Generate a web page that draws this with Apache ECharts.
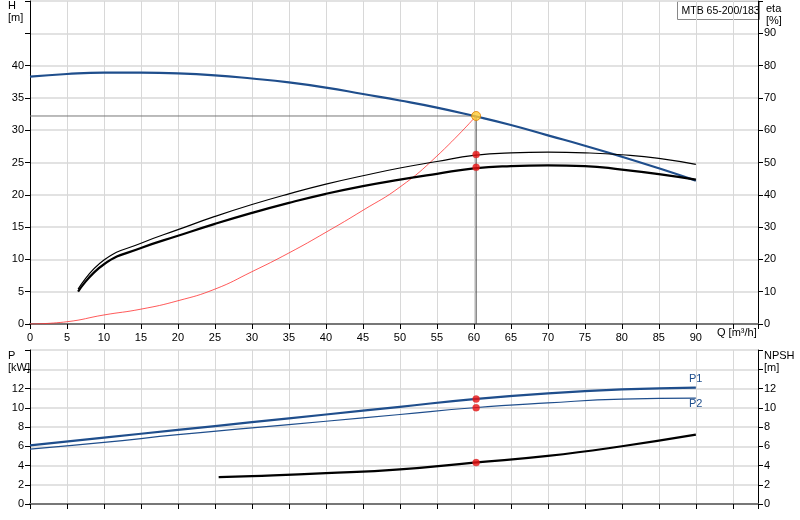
<!DOCTYPE html>
<html><head><meta charset="utf-8">
<script src="https://cdn.jsdelivr.net/npm/echarts@6/dist/echarts.min.js"></script>
<style>html,body{margin:0;padding:0;background:#fff}#c{width:800px;height:520px}</style>
</head><body><div id="c"></div>
<script>
const qH = [0,5,10,15,20,25,30,35,40,45,50,55,60,65,70,75,80,85,90];
const H  = [38.3,38.7,38.9,38.9,38.8,38.5,38.0,37.4,36.6,35.6,34.6,33.5,32.2,30.8,29.2,27.6,25.9,24.1,22.2];
const qEta = [6.5,10,15,20,25,30,35,40,45,50,55,60,65,70,75,80,85,90];
const eta1 = [10.0,18.5,23.5,27.3,31.0,34.4,37.5,40.3,42.7,44.7,46.5,48.2,48.9,49.1,48.9,47.8,46.4,44.7];
const eta2 = [10.8,19.8,25.0,29.2,33.3,37.0,40.3,43.3,45.9,48.3,50.3,52.2,53.0,53.2,53.0,52.4,51.3,49.4];
const qSys = [0,5,10,15,20,25,30,35,40,45,50,55,60.3];
const Hsys = [0,0.35,1.4,2.3,3.6,5.4,8.1,11.0,14.2,17.6,21.2,26.0,32.2];
const qP = [0,10,20,30,40,50,60,70,80,90];
const P1 = [6.1,6.9,7.7,8.5,9.3,10.1,10.9,11.5,11.9,12.1];
const P2 = [5.7,6.4,7.2,7.9,8.6,9.3,10.0,10.5,10.9,11.0];
const qN = [25.5,30,40,50,60,70,80,90];
const NPSH = [2.8,2.9,3.2,3.6,4.3,5.0,6.0,7.2];
const opQ = 60.3, opH = 32.2, opEta1 = 52.5, opEta2 = 48.5, opP1 = 10.9, opP2 = 10.0, opN = 4.3;

const z = a => (b) => a.map((v,i)=>[v,b[i]]);
const chart = echarts.init(document.getElementById('c'));
const font = {fontFamily:'Liberation Sans, Arial', fontSize:11, color:'#000'};
const xBase = {type:'value', min:0, max:98.4, interval:5,
  axisLine:{lineStyle:{color:'#777',width:2}}, axisTick:{show:true,lineStyle:{color:'#000'}},
  splitLine:{show:true,lineStyle:{color:'#d8d8d8'}}};
const yBase = (max, itv, lim, pos) => ({type:'value', min:0, max, interval:itv, position:pos,
  axisLine:{show:true,lineStyle:{color:'#000'}}, axisTick:{show:true,lineStyle:{color:'#000'}},
  splitLine:{show:pos==='left',lineStyle:{color:'#d8d8d8',width:1.5}},
  axisLabel:Object.assign({formatter:v=>v>lim?'':v, margin:6},font)});
const line = (name, data, xi, yi, color, width) => ({name, type:'line', data, xAxisIndex:xi, yAxisIndex:yi,
  smooth:0.5, symbol:'none', lineStyle:{color, width}, z:3});
const dot = (pts, xi, yi, color) => ({type:'scatter', data:pts, xAxisIndex:xi, yAxisIndex:yi,
  symbolSize:7, itemStyle:{color, borderColor:'#c33', borderWidth:0.5}, z:5});

chart.setOption({
  animation:false,
  grid:[{left:30,right:42,top:1,height:323},{left:30,right:42,top:350,height:154}],
  xAxis:[Object.assign({},xBase,{gridIndex:0,axisLabel:Object.assign({formatter:v=>v>90?'':v},font)}),
         Object.assign({},xBase,{gridIndex:1,axisLabel:{show:false}})],
  yAxis:[Object.assign(yBase(50,5,40,'left'),{gridIndex:0}),
         Object.assign(yBase(100,10,90,'right'),{gridIndex:0}),
         Object.assign(yBase(16,2,12,'left'),{gridIndex:1}),
         Object.assign(yBase(16,2,12,'right'),{gridIndex:1})],
  series:[
    line('H', z(qH)(H), 0,0,'#1f4e8c',2.2),
    line('sys', z(qSys)(Hsys), 0,0,'#ff3030',0.8),
    line('eta2', z(qEta)(eta2), 0,1,'#000',1.2),
    line('eta1', z(qEta)(eta1), 0,1,'#000',2.2),
    {type:'line', data:[[0,opH],[opQ,opH]], xAxisIndex:0,yAxisIndex:0, symbol:'none', lineStyle:{color:'#777',width:1}, z:2},
    {type:'line', data:[[opQ,0],[opQ,opH]], xAxisIndex:0,yAxisIndex:0, symbol:'none', lineStyle:{color:'#444',width:1}, z:2},
    dot([[opQ,opEta1],[opQ,opEta2]],0,1,'#ee1111'),
    {type:'scatter', data:[[opQ,opH]], xAxisIndex:0,yAxisIndex:0, symbolSize:9, itemStyle:{color:'#ffcc33',borderColor:'#e08000',borderWidth:1}, z:6},
    line('P1', z(qP)(P1), 1,2,'#1f4e8c',2.2),
    line('P2', z(qP)(P2), 1,2,'#1f4e8c',1.2),
    line('NPSH', z(qN)(NPSH), 1,3,'#000',2.2),
    dot([[opQ,opP1],[opQ,opP2]],1,2,'#ee1111'),
    dot([[opQ,opN]],1,3,'#ee1111')
  ],
  graphic:[
    {type:'text', left:8, top:0, style:Object.assign({text:'H\n[m]',lineHeight:12},font,{fill:'#000'})},
    {type:'text', left:766, top:3, style:Object.assign({text:'eta\n[%]',lineHeight:12},font,{fill:'#000'})},
    {type:'text', left:717, top:327, style:Object.assign({text:'Q [m³/h]'},font,{fill:'#000'})},
    {type:'text', left:8, top:350, style:Object.assign({text:'P\n[kW]',lineHeight:12},font,{fill:'#000'})},
    {type:'text', left:764, top:350, style:Object.assign({text:'NPSH\n[m]',lineHeight:12},font,{fill:'#000'})},
    {type:'text', left:689, top:373, style:Object.assign({text:'P1'},font,{fill:'#1f4e8c'})},
    {type:'text', left:689, top:398, style:Object.assign({text:'P2'},font,{fill:'#1f4e8c'})},
    {type:'group', left:677, top:1, children:[
      {type:'rect', shape:{x:0,y:0,width:82,height:18}, style:{fill:'#fff',stroke:'#888',lineWidth:1}},
      {type:'text', left:4, top:4, style:{text:'MTB 65-200/183', fontFamily:'Liberation Sans, Arial', fontSize:10.5, fill:'#000'}}]}
  ]
});
</script></body></html>
